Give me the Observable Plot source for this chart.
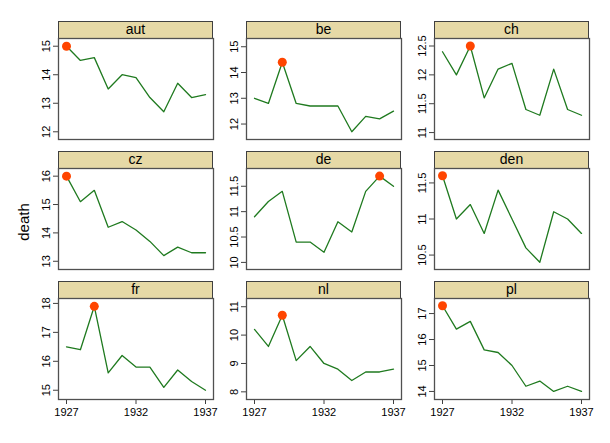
<!DOCTYPE html>
<html><head><meta charset="utf-8">
<script src="https://cdn.jsdelivr.net/npm/d3@7"></script>
<script src="https://cdn.jsdelivr.net/npm/@observablehq/plot@0.6"></script>
<style>
body{margin:0;background:#fff;font-family:"Liberation Sans",Arial,sans-serif;}
#chart{position:relative;width:610px;height:443px;background:#fff;overflow:hidden;}
.strip{position:absolute;box-sizing:border-box;background:#E6D9A6;border:1px solid #404040;text-align:center;font-size:14px;line-height:15px;color:#000;}
.panel{position:absolute;}
#ylab{position:absolute;left:23px;top:222px;transform:translate(-50%,-50%) rotate(-90deg);font-size:15px;color:#000;white-space:nowrap;}
</style></head>
<body><div id="chart"><div id="ylab">death</div></div>
<script>
const years = [1927,1928,1929,1930,1931,1932,1933,1934,1935,1936,1937];
const countries = ["aut","be","ch","cz","de","den","fr","nl","pl"];
const aut = [15.0,14.5,14.6,13.5,14.0,13.9,13.2,12.7,13.7,13.2,13.3];
const be  = [13.0,12.8,14.4,12.8,12.7,12.7,12.7,11.7,12.3,12.2,12.5];
const ch  = [12.4,12.0,12.5,11.6,12.1,12.2,11.4,11.3,12.1,11.4,11.3];
const cz  = [16.0,15.1,15.5,14.2,14.4,14.1,13.7,13.2,13.5,13.3,13.3];
const de  = [10.9,11.2,11.4,10.4,10.4,10.2,10.8,10.6,11.4,11.7,11.5];
const den = [11.6,11.0,11.2,10.8,11.4,11.0,10.6,10.4,11.1,11.0,10.8];
const fr  = [16.5,16.4,17.9,15.6,16.2,15.8,15.8,15.1,15.7,15.3,15.0];
const nl  = [10.2,9.6,10.7,9.1,9.6,9.0,8.8,8.4,8.7,8.7,8.8];
const pl  = [17.3,16.4,16.7,15.6,15.5,15.0,14.2,14.4,14.0,14.2,14.0];
const series = [aut,be,ch,cz,de,den,fr,nl,pl];
const yLow  = [11.73,11.40,10.88,12.71,9.86,10.30,14.68,7.73,13.69];
const yHigh = [15.27,15.32,12.63,16.27,11.85,11.70,18.17,11.29,17.58];
const yTicks = [[12,13,14,15],[12,13,14,15],[11,11.5,12,12.5],[13,14,15,16],[10,10.5,11,11.5],[10.5,11,11.5],[15,16,17,18],[8,9,10,11],[14,15,16,17]];
const xTicks = [1927,1932,1937];

const chart = document.getElementById("chart");
const colLeft = [58,246,434];
const rowTop = [21,151,281];
const stripH = 17, plotH = 101, panelW = 155, ml = 40;

countries.forEach((name,i) => {
  const row = Math.floor(i/3), col = i%3;
  const bottom = row === 2;
  const data = years.map((year,j) => ({year, value: series[i][j]}));
  const maxV = d3.max(data, d => d.value);
  const strip = document.createElement("div");
  strip.className = "strip";
  strip.style.left = colLeft[col] + "px";
  strip.style.top = rowTop[row] + "px";
  strip.style.width = panelW + "px";
  strip.style.height = (stripH + 1) + "px";
  strip.textContent = name;
  chart.appendChild(strip);
  const mb = bottom ? 30 : 1;
  const svg = Plot.plot({
    width: ml + panelW + 1,
    height: 1 + plotH + mb,
    marginLeft: ml, marginRight: 1, marginTop: 1, marginBottom: mb,
    style: {fontFamily: '"Liberation Sans", Arial, sans-serif', fontSize: "11px", color: "#000", background: "transparent", overflow: "visible"},
    x: {domain: [1927,1937], inset: 8, axis: bottom ? undefined : null},
    y: {domain: [yLow[i], yHigh[i]]},
    marks: [
      Plot.axisY({ticks: yTicks[i], tickSize: 5, tickRotate: -90, label: null, tickFormat: d => String(d), stroke: "#404040"}),
      ...(bottom ? [Plot.axisX({ticks: xTicks, tickSize: 5, label: null, tickFormat: d => String(d), stroke: "#404040"})] : []),
      Plot.line(data, {x: "year", y: "value", stroke: "#1f7a1f", strokeWidth: 1.3}),
      Plot.dot(data.filter(d => d.value === maxV), {x: "year", y: "value", r: 4.5, fill: "#ff4500", stroke: "none"}),
      Plot.frame({stroke: "#505050", strokeWidth: 1.3})
    ]
  });
  svg.classList.add("panel");
  svg.style.left = (colLeft[col] - ml) + "px";
  svg.style.top = (rowTop[row] + stripH - 1) + "px";
  chart.appendChild(svg);
});
</script>
</body></html>
